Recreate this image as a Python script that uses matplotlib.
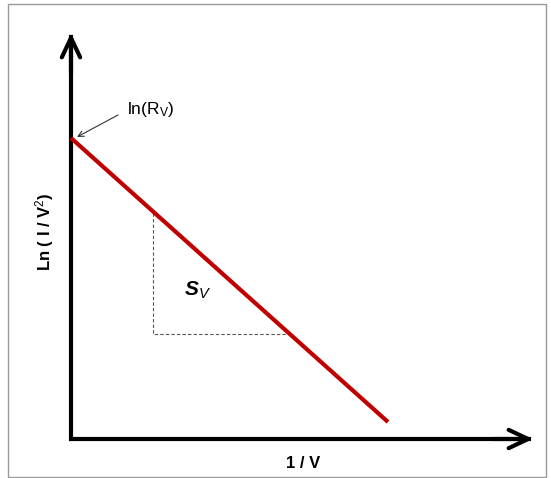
import matplotlib
matplotlib.use('Agg')
import matplotlib.pyplot as plt
from matplotlib.patches import Rectangle

plt.rcParams['font.family'] = ['Liberation Sans', 'DejaVu Sans']
plt.rcParams['mathtext.fontset'] = 'custom'
plt.rcParams['mathtext.rm'] = 'Liberation Sans'
plt.rcParams['mathtext.it'] = 'Liberation Sans:italic'
plt.rcParams['mathtext.bf'] = 'Liberation Sans:bold'
plt.rcParams['mathtext.bfit'] = 'Liberation Sans:italic:bold'

# schematic values (units measured from the axis origin)
line_x = [0, 317]          # 1/V
line_y = [301, 17]         # ln(I/V^2), starts at ln(R_V)
tri_x = [82, 82, 216]      # slope triangle
tri_y = [226, 105, 105]
x_tip = 462
y_tip = 406

xlabel = '1 / V'
ylabel = r'Ln ( I / V$^2$)'
intercept_label = r'ln(R$_\mathrm{V}$)'
slope_label = r'$\mathbfit{S}_{\mathit{V}}$'

fig = plt.figure(figsize=(5.51, 4.78), dpi=100)
ax = fig.add_axes([0, 0, 1, 1])
ax.set_xlim(-71, 480)
ax.set_ylim(-39, 439)
ax.axis('off')

# outer frame
ax.add_patch(Rectangle((-63, -38), 538, 473, fill=False, edgecolor='#999999', lw=1))

# axes with arrow heads
head = '->,head_length=0.7,head_width=0.33'
ax.plot([0, 0, x_tip - 4], [y_tip - 4, 0, 0], color='black', lw=3, solid_joinstyle='miter')
ax.annotate('', xy=(0, y_tip), xytext=(0, y_tip - 40),
            arrowprops=dict(arrowstyle=head, lw=3, color='black',
                            shrinkA=0, shrinkB=0, mutation_scale=20))
ax.annotate('', xy=(x_tip, 0), xytext=(x_tip - 40, 0),
            arrowprops=dict(arrowstyle=head, lw=3, color='black',
                            shrinkA=0, shrinkB=0, mutation_scale=20))

# slope triangle
ax.plot(tri_x, tri_y, color='#555555', lw=0.8, ls=(0, (3, 2)))

# red line
ax.plot(line_x, line_y, color='#c00000', lw=3, solid_capstyle='butt')

ax.text(56, 330, intercept_label, fontsize=12.5, ha='left', va='center')
ax.annotate('', xy=(6, 302), xytext=(47, 324),
            arrowprops=dict(arrowstyle='->', lw=0.8, color='#333333',
                            shrinkA=0, shrinkB=0))

ax.text(113, 149, slope_label, fontsize=15, ha='left', va='center')

ax.text(-26, 207, ylabel, rotation=90, fontsize=12, fontweight='bold',
        ha='center', va='center')
ax.text(232, -25, xlabel, fontsize=12, fontweight='bold', ha='center', va='center')

fig.savefig('out.png', dpi=100)
